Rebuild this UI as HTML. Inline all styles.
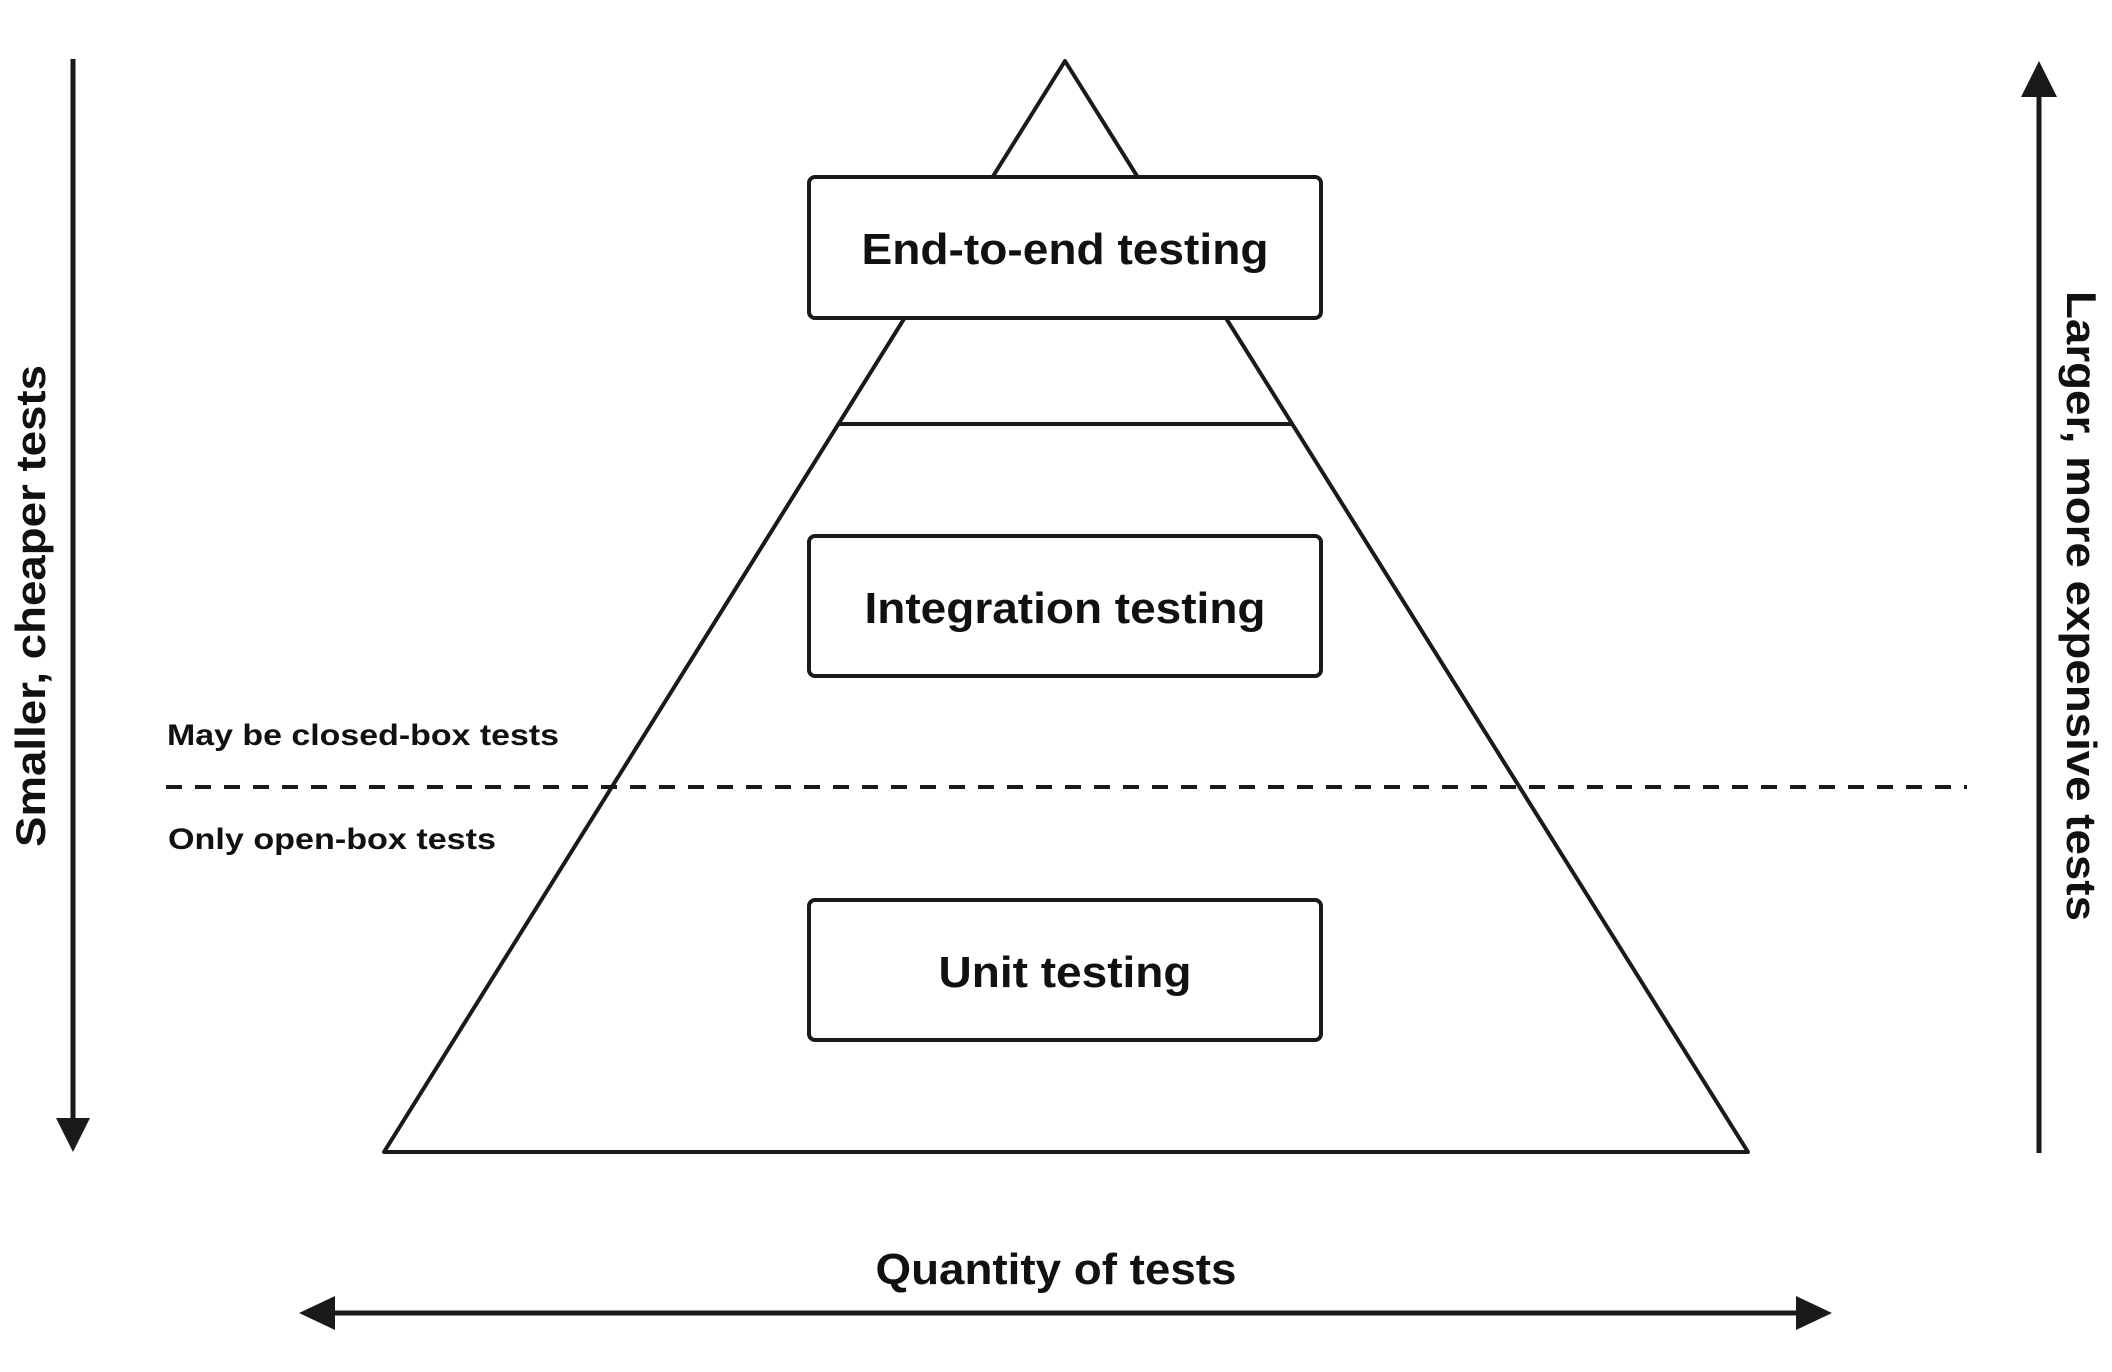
<!DOCTYPE html>
<html><head><meta charset="utf-8"><style>
html,body{margin:0;padding:0;background:#fff;}
svg{display:block;}
text{font-family:"Liberation Sans",sans-serif;font-weight:bold;fill:#111;}
</style></head><body>
<svg width="2112" height="1372" viewBox="0 0 2112 1372" xmlns="http://www.w3.org/2000/svg">
<!-- pyramid -->
<polygon points="1065,61 384,1152 1748,1152" fill="none" stroke="#1a1a1a" stroke-width="4" stroke-linejoin="round"/>
<line x1="838" y1="424" x2="1292" y2="424" stroke="#1a1a1a" stroke-width="4"/>
<!-- dashed -->
<line x1="166" y1="787" x2="1967" y2="787" stroke="#1a1a1a" stroke-width="4" stroke-dasharray="16,13"/>
<!-- boxes -->
<rect x="809" y="177" width="512" height="141" rx="6" fill="#fff" stroke="#1a1a1a" stroke-width="4"/>
<rect x="809" y="536" width="512" height="140" rx="6" fill="#fff" stroke="#1a1a1a" stroke-width="4"/>
<rect x="809" y="900" width="512" height="140" rx="6" fill="#fff" stroke="#1a1a1a" stroke-width="4"/>
<text x="1065" y="264" font-size="44" text-anchor="middle" textLength="407" lengthAdjust="spacingAndGlyphs">End-to-end testing</text>
<text x="1065" y="623" font-size="44" text-anchor="middle" textLength="401" lengthAdjust="spacingAndGlyphs">Integration testing</text>
<text x="1065" y="987" font-size="44" text-anchor="middle" textLength="253" lengthAdjust="spacingAndGlyphs">Unit testing</text>
<!-- small labels -->
<text x="167" y="745" font-size="30" textLength="392" lengthAdjust="spacingAndGlyphs" style="font-weight:bold">May be closed-box tests</text>
<text x="168" y="849" font-size="30" textLength="328" lengthAdjust="spacingAndGlyphs">Only open-box tests</text>
<!-- left arrow -->
<line x1="73" y1="59" x2="73" y2="1122" stroke="#1a1a1a" stroke-width="5"/>
<polygon points="56,1118 90,1118 73,1152" fill="#1a1a1a"/>
<text transform="translate(45,606) rotate(-90)" font-size="42" text-anchor="middle" textLength="482" lengthAdjust="spacingAndGlyphs">Smaller, cheaper tests</text>
<!-- right arrow -->
<line x1="2039" y1="92" x2="2039" y2="1153" stroke="#1a1a1a" stroke-width="5"/>
<polygon points="2021,97 2057,97 2039,61" fill="#1a1a1a"/>
<text transform="translate(2067,606) rotate(90)" font-size="42" text-anchor="middle" textLength="630" lengthAdjust="spacingAndGlyphs">Larger, more expensive tests</text>
<!-- bottom arrow -->
<line x1="330" y1="1313" x2="1800" y2="1313" stroke="#1a1a1a" stroke-width="5"/>
<polygon points="299,1313 335,1296 335,1330" fill="#1a1a1a"/>
<polygon points="1832,1313 1796,1296 1796,1330" fill="#1a1a1a"/>
<text x="1056" y="1284" font-size="44" text-anchor="middle" textLength="361" lengthAdjust="spacingAndGlyphs">Quantity of tests</text>
</svg>
</body></html>
